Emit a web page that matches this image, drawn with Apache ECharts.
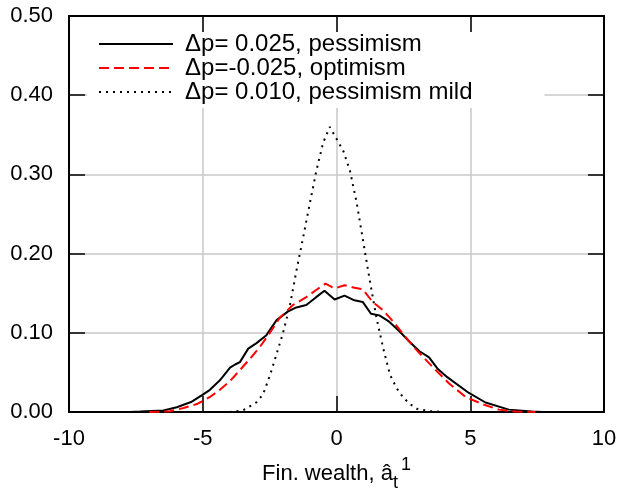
<!DOCTYPE html>
<html>
<head>
<meta charset="utf-8">
<script src="https://cdn.jsdelivr.net/npm/echarts@6/dist/echarts.min.js"></script>
<style>
html,body{margin:0;padding:0;background:#fff;}
#chart{width:619px;height:491px;}
</style>
</head>
<body>
<div id="chart"></div>
<script>
// ---- data ----
const seriesNames = ['\u0394p= 0.025, pessimism', '\u0394p=-0.025, optimism', '\u0394p= 0.010, pessimism mild'];
const xTicks = [-10, -5, 0, 5, 10];
const yTicks = ['0.00', '0.10', '0.20', '0.30', '0.40', '0.50'];

const pessX = [-7.7, -7.33, -6.47, -5.97, -5.41, -5.04, -4.73, -4.36, -3.98, -3.79, -3.61, -3.3, -2.99, -2.62, -2.24, -1.81, -1.5, -1.13, -0.76, -0.45, -0.07, 0.30, 0.67, 0.98, 1.29, 1.6, 1.97, 2.35, 2.72, 3.09, 3.46, 3.77, 4.14, 4.95, 5.57, 6.44, 7.3, 7.7];
const pessY = [0.0, 0.0005, 0.002, 0.006, 0.013, 0.021, 0.028, 0.040, 0.056, 0.060, 0.063, 0.080, 0.087, 0.097, 0.116, 0.127, 0.132, 0.135, 0.145, 0.153, 0.142, 0.147, 0.141, 0.139, 0.124, 0.122, 0.114, 0.102, 0.089, 0.077, 0.069, 0.055, 0.044, 0.024, 0.012, 0.003, 0.0005, 0.0];

const optX = [-7.0, -6.59, -6.22, -5.72, -5.22, -4.73, -4.36, -3.98, -3.61, -3.24, -2.87, -2.49, -2.12, -1.63, -1.13, -0.76, -0.41, -0.07, 0.30, 0.67, 0.98, 1.35, 1.72, 2.1, 2.6, 2.97, 3.59, 4.21, 4.83, 5.45, 6.07, 6.69, 7.43];
const optY = [0.0, 0.0005, 0.001, 0.005, 0.010, 0.019, 0.028, 0.039, 0.053, 0.067, 0.082, 0.100, 0.119, 0.135, 0.145, 0.154, 0.162, 0.156, 0.160, 0.157, 0.155, 0.139, 0.129, 0.115, 0.094, 0.079, 0.057, 0.036, 0.019, 0.010, 0.003, 0.0005, 0.0];

const mildX = [-4.0, -3.5, -3.0, -2.75, -2.5, -2.25, -2.0, -1.75, -1.5, -1.25, -1.0, -0.75, -0.5, -0.25, 0.0, 0.25, 0.5, 0.75, 1.0, 1.25, 1.5, 1.75, 2.0, 2.25, 2.5, 2.75, 3.0, 3.5, 4.0];
const mildY = [0.0, 0.002, 0.012, 0.022, 0.045, 0.072, 0.100, 0.133, 0.178, 0.220, 0.263, 0.305, 0.340, 0.360, 0.345, 0.330, 0.305, 0.265, 0.215, 0.165, 0.118, 0.080, 0.047, 0.030, 0.018, 0.010, 0.004, 0.001, 0.0];

// ---- chart ----
const FONT = 'Liberation Sans';
const pairs = (xs, ys) => xs.map((x, i) => [x, ys[i]]);
const chart = echarts.init(document.getElementById('chart'), null, {renderer: 'canvas'});

const tickStyle = {inside: true, length: 16, lineStyle: {color: '#000', width: 1.5}};
const axisLineStyle = {show: true, onZero: false, lineStyle: {color: '#000', width: 2}};

chart.setOption({
  animation: false,
  backgroundColor: '#fff',
  grid: {left: 69, right: 15, top: 16, bottom: 79, containLabel: false, outerBoundsMode: 'none'},
  legend: {
    orient: 'vertical',
    left: 87,
    top: 32,
    padding: [0, 72, 4, 11],
    backgroundColor: '#fff',
    itemWidth: 74,
    itemHeight: 14,
    itemGap: 0,
    itemStyle: {color: 'rgba(0,0,0,0)', borderWidth: 0, opacity: 0},
    textStyle: {fontFamily: FONT, fontSize: 24, color: '#000', lineHeight: 24, padding: [0, 0, 0, 7]},
    data: seriesNames
  },
  xAxis: [{
    type: 'value', min: xTicks[0], max: xTicks[xTicks.length - 1], interval: 5,
    position: 'bottom',
    axisLine: axisLineStyle,
    axisTick: tickStyle,
    splitLine: {show: true, lineStyle: {color: '#c8c8c8', width: 1.5}},
    axisLabel: {fontFamily: FONT, fontSize: 22, color: '#000', margin: 16,
      formatter: v => String(v)},
    name: '{n|Fin. wealth, \u00e2}{sub|t}{sup|1}',
    nameLocation: 'middle',
    nameGap: 44,
    nameTextStyle: {
      rich: {
        n: {fontFamily: FONT, fontSize: 22, color: '#000', lineHeight: 36},
        sub: {fontFamily: FONT, fontSize: 18, color: '#000', lineHeight: 20, verticalAlign: 'bottom'},
        sup: {fontFamily: FONT, fontSize: 18, color: '#000', lineHeight: 14, verticalAlign: 'top', padding: [0, 0, 0, 3]}
      }
    }
  }, {
    type: 'value', min: xTicks[0], max: xTicks[xTicks.length - 1], interval: 5,
    position: 'top',
    axisLine: axisLineStyle,
    axisTick: tickStyle,
    splitLine: {show: false},
    axisLabel: {show: false}
  }],
  yAxis: [{
    type: 'value', min: 0, max: 0.5, interval: 0.1,
    position: 'left',
    axisLine: axisLineStyle,
    axisTick: tickStyle,
    splitLine: {show: true, lineStyle: {color: '#c8c8c8', width: 1.5}},
    axisLabel: {fontFamily: FONT, fontSize: 22, color: '#000', margin: 16,
      formatter: v => yTicks[Math.round(v * 10)]}
  }, {
    type: 'value', min: 0, max: 0.5, interval: 0.1,
    position: 'right',
    axisLine: axisLineStyle,
    axisTick: tickStyle,
    splitLine: {show: false},
    axisLabel: {show: false}
  }],
  series: [{
    name: seriesNames[0], type: 'line', data: pairs(pessX, pessY),
    symbol: 'none', z: 3,
    lineStyle: {color: '#000', width: 2, type: 'solid'},
    itemStyle: {color: '#000'}
  }, {
    name: seriesNames[1], type: 'line', data: pairs(optX, optY),
    symbol: 'none', z: 4,
    lineStyle: {color: '#ff0000', width: 2, type: [10, 5]},
    itemStyle: {color: '#ff0000'}
  }, {
    name: seriesNames[2], type: 'line', data: pairs(mildX, mildY),
    symbol: 'none', z: 3,
    lineStyle: {color: '#000', width: 2, type: [2, 5]},
    itemStyle: {color: '#000'}
  }]
});
</script>
</body>
</html>
